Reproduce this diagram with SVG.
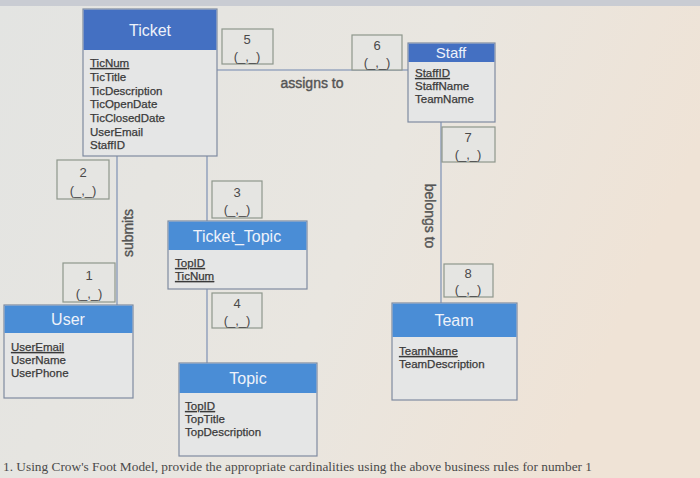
<svg xmlns="http://www.w3.org/2000/svg" width="700" height="478" viewBox="0 0 700 478">
<defs>
<linearGradient id="bg" x1="0" y1="0" x2="1" y2="0.3">
<stop offset="0" stop-color="#e3e4e2"/>
<stop offset="0.6" stop-color="#e9e6e0"/>
<stop offset="1" stop-color="#efe3d6"/>
</linearGradient>
<style>
.body{fill:#e5e6e6;stroke:#7f8ba0;stroke-width:1.2}
.hd1{fill:#4470c2}
.hd2{fill:#4a8dd6}
.ht{font-family:"Liberation Sans",Arial,sans-serif;font-size:16px;fill:#eef2fa;text-anchor:middle}
.at{font-family:"Liberation Sans",Arial,sans-serif;font-size:11.5px;fill:#3a3a3a;stroke:#3a3a3a;stroke-width:0.25}
.pk{text-decoration:underline}
.card{fill:#e5e5e2;stroke:#8e978c;stroke-width:1.2}
.ct{font-family:"Liberation Sans",Arial,sans-serif;font-size:13px;fill:#4a4a4a;text-anchor:middle}
.cn{stroke:#98a6bf;stroke-width:1.6;fill:none}
.rl{font-family:"Liberation Sans",Arial,sans-serif;font-size:14px;fill:#555;stroke:#555;stroke-width:0.4;text-anchor:middle}
</style>
</defs>
<rect width="700" height="478" fill="url(#bg)"/>
<rect width="700" height="6" fill="#c9ccd3"/>

<g id="connectors">
<line class="cn" x1="217" y1="70" x2="408" y2="70"/>
<line class="cn" x1="117" y1="156" x2="117" y2="305"/>
<line class="cn" x1="207" y1="156" x2="207" y2="221"/>
<line class="cn" x1="207" y1="289" x2="207" y2="363"/>
<line class="cn" x1="441" y1="122" x2="441" y2="303"/>
<text class="rl" x="312" y="88">assigns to</text>
<text class="rl" transform="translate(133,233) rotate(-90)" x="0" y="0">submits</text>
<text class="rl" transform="translate(425,216) rotate(90)" x="0" y="0">belongs to</text>
</g>

<g id="ticket">
<rect class="body" x="83" y="9" width="134" height="147"/>
<rect class="hd1" x="83.6" y="9.6" width="132.8" height="40.4"/>
<text class="ht" x="150" y="36">Ticket</text>
<text class="at" x="90"><tspan class="pk" x="90" y="67">TicNum</tspan><tspan x="90" y="81">TicTitle</tspan><tspan x="90" y="94.5">TicDescription</tspan><tspan x="90" y="108">TicOpenDate</tspan><tspan x="90" y="122">TicClosedDate</tspan><tspan x="90" y="135.5">UserEmail</tspan><tspan x="90" y="149">StaffID</tspan></text>
</g>

<g id="staff">
<rect class="body" x="408" y="43" width="87" height="79"/>
<rect class="hd1" x="408.6" y="43.6" width="85.8" height="18.4"/>
<text class="ht" x="451" y="58" style="font-size:15px">Staff</text>
<text class="at" x="415"><tspan class="pk" x="415" y="77">StaffID</tspan><tspan x="415" y="90">StaffName</tspan><tspan x="415" y="103">TeamName</tspan></text>
</g>

<g id="ticket_topic">
<rect class="body" x="168" y="221" width="139" height="68"/>
<rect class="hd2" x="168.6" y="221.6" width="137.8" height="28.4"/>
<text class="ht" x="237" y="242">Ticket_Topic</text>
<text class="at" x="175"><tspan class="pk" x="175" y="267">TopID</tspan><tspan class="pk" x="175" y="280">TicNum</tspan></text>
</g>

<g id="user">
<rect class="body" x="4" y="305" width="129" height="93"/>
<rect class="hd2" x="4.6" y="305.6" width="127.8" height="27.4"/>
<text class="ht" x="68" y="325">User</text>
<text class="at" x="11"><tspan class="pk" x="11" y="351">UserEmail</tspan><tspan x="11" y="364">UserName</tspan><tspan x="11" y="377">UserPhone</tspan></text>
</g>

<g id="team">
<rect class="body" x="392" y="303" width="125" height="97"/>
<rect class="hd2" x="392.6" y="303.6" width="123.8" height="33.4"/>
<text class="ht" x="454" y="326">Team</text>
<text class="at" x="399"><tspan class="pk" x="399" y="355">TeamName</tspan><tspan x="399" y="368">TeamDescription</tspan></text>
</g>

<g id="topic">
<rect class="body" x="179" y="363" width="138" height="93"/>
<rect class="hd2" x="179.6" y="363.6" width="136.8" height="29.4"/>
<text class="ht" x="248" y="384">Topic</text>
<text class="at" x="185"><tspan class="pk" x="185" y="410">TopID</tspan><tspan x="185" y="423">TopTitle</tspan><tspan x="185" y="436">TopDescription</tspan></text>
</g>

<g id="card1"><rect class="card" x="63" y="263" width="52" height="39"/><text class="ct" x="89" y="280">1</text><text class="ct" x="89" y="298">(_,_)</text></g>
<g id="card2"><rect class="card" x="57" y="160" width="52" height="39"/><text class="ct" x="83" y="177">2</text><text class="ct" x="83" y="195">(_,_)</text></g>
<g id="card3"><rect class="card" x="212" y="181" width="50" height="37"/><text class="ct" x="237" y="197">3</text><text class="ct" x="237" y="214">(_,_)</text></g>
<g id="card4"><rect class="card" x="212" y="293" width="50" height="35"/><text class="ct" x="237" y="308">4</text><text class="ct" x="237" y="325">(_,_)</text></g>
<g id="card5"><rect class="card" x="222" y="29" width="51" height="35"/><text class="ct" x="247" y="44">5</text><text class="ct" x="247" y="61">(_,_)</text></g>
<g id="card6"><rect class="card" x="352" y="35" width="50" height="35"/><text class="ct" x="377" y="50">6</text><text class="ct" x="377" y="67">(_,_)</text></g>
<g id="card7"><rect class="card" x="442" y="127" width="53" height="35"/><text class="ct" x="468" y="142">7</text><text class="ct" x="468" y="159">(_,_)</text></g>
<g id="card8"><rect class="card" x="444" y="264" width="49" height="33"/><text class="ct" x="468" y="278">8</text><text class="ct" x="468" y="294">(_,_)</text></g>

<text x="3" y="471" font-family="Liberation Serif,Times New Roman,serif" font-size="12" fill="#4a4a4a" textLength="589" lengthAdjust="spacingAndGlyphs">1. Using Crow's Foot Model, provide the appropriate cardinalities using the above business rules for number 1</text>
</svg>
